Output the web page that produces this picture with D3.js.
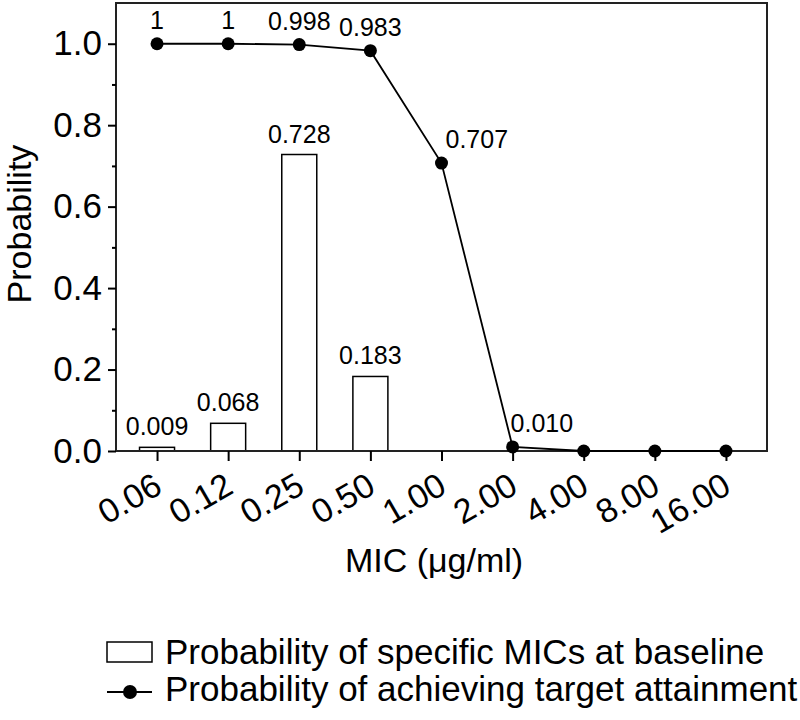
<!DOCTYPE html>
<html>
<head>
<meta charset="utf-8">
<script src="https://cdn.jsdelivr.net/npm/d3@7"></script>
<style>
  html, body { margin: 0; padding: 0; background: #fff; }
  svg { display: block; font-family: "Liberation Sans", Arial, sans-serif; }
</style>
</head>
<body>
<svg id="chart" width="800" height="720"></svg>
<script>
// ---- data ----
const categories = ["0.06", "0.12", "0.25", "0.50", "1.00", "2.00", "4.00", "8.00", "16.00"];
const barValues = [0.009, 0.068, 0.728, 0.183, 0, 0, 0, 0, 0];
const barLabels = ["0.009", "0.068", "0.728", "0.183", "", "", "", "", ""];
const lineValues = [1, 1, 0.998, 0.983, 0.707, 0.010, 0, 0, 0];
const lineLabels = ["1", "1", "0.998", "0.983", "0.707", "0.010", "", "", ""];
const yTicks = [0, 0.2, 0.4, 0.6, 0.8, 1.0];
const yMinorTicks = [0.1, 0.3, 0.5, 0.7, 0.9];
const xTitle = "MIC (μg/ml)";
const yTitle = "Probability";
const legendBar = "Probability of specific MICs at baseline";
const legendLine = "Probability of achieving target attainment";

// ---- layout ----
const svg = d3.select("#chart");
const L = 116, R = 767, T = 3, B = 451;

const x = d3.scalePoint().domain(categories).range([L, R]).padding(0.577);
const y = d3.scaleLinear().domain([0, 1.1]).range([B, T]);
const barW = 35;

// bars
svg.append("g").selectAll("rect")
  .data(categories.map((c, i) => ({c, v: barValues[i]})).filter(d => d.v > 0))
  .join("rect")
  .attr("x", d => x(d.c) - barW / 2)
  .attr("y", d => y(d.v))
  .attr("width", barW)
  .attr("height", d => y(0) - y(d.v))
  .attr("fill", "#fff")
  .attr("stroke", "#000")
  .attr("stroke-width", 1.5);

// bar labels
svg.append("g").selectAll("text")
  .data(categories.map((c, i) => ({c, v: barValues[i], t: barLabels[i]})).filter(d => d.t))
  .join("text")
  .attr("x", d => x(d.c))
  .attr("y", d => y(d.v) - 12)
  .attr("text-anchor", "middle")
  .attr("font-size", 25)
  .attr("fill", "#000")
  .text(d => d.t);

// frame
svg.append("rect")
  .attr("x", L).attr("y", T).attr("width", R - L).attr("height", B - T)
  .attr("fill", "none").attr("stroke", "#222").attr("stroke-width", 2);

// y axis
const yAxis = d3.axisLeft(y).tickValues(yTicks).tickFormat(d3.format(".1f")).tickSize(8).tickPadding(6);
const gy = svg.append("g").attr("transform", `translate(${L},0)`).call(yAxis);
gy.select(".domain").remove();
gy.selectAll(".tick line").attr("stroke", "#000").attr("stroke-width", 2);
gy.selectAll(".tick text").attr("font-size", 35).attr("fill", "#000")
  .attr("font-family", "Liberation Sans, Arial, sans-serif");
const yMinor = d3.axisLeft(y).tickValues(yMinorTicks).tickSize(4).tickFormat("");
const gym = svg.append("g").attr("transform", `translate(${L},0)`).call(yMinor);
gym.select(".domain").remove();
gym.selectAll(".tick line").attr("stroke", "#000").attr("stroke-width", 2);

// x axis
const xAxis = d3.axisBottom(x).tickSize(10).tickFormat("");
const gx = svg.append("g").attr("transform", `translate(0,${B})`).call(xAxis);
gx.select(".domain").remove();
gx.selectAll(".tick line").attr("stroke", "#000").attr("stroke-width", 2);

// x tick labels (rotated)
svg.append("g").selectAll("text")
  .data(categories)
  .join("text")
  .attr("transform", d => `translate(${x(d) + 7},492) rotate(-30)`)
  .attr("text-anchor", "end")
  .attr("font-size", 34)
  .attr("fill", "#000")
  .text(d => d);

// line
const pts = categories.map((c, i) => ({c, v: lineValues[i], t: lineLabels[i], i}));
svg.append("path")
  .datum(pts)
  .attr("d", d3.line().x(d => x(d.c)).y(d => y(d.v)))
  .attr("fill", "none")
  .attr("stroke", "#000")
  .attr("stroke-width", 1.8);
svg.append("g").selectAll("circle")
  .data(pts)
  .join("circle")
  .attr("cx", d => x(d.c))
  .attr("cy", d => y(d.v))
  .attr("r", 6.5)
  .attr("fill", "#000");

// line labels: centred above on the plateau, offset to the right on the steep drop
svg.append("g").selectAll("text")
  .data(pts.filter(d => d.t))
  .join("text")
  .attr("x", d => d.i >= 4 ? x(d.c) + (d.i === 4 ? 4 : -2) : x(d.c))
  .attr("y", d => y(d.v) - 15)
  .attr("text-anchor", d => d.i >= 4 ? "start" : "middle")
  .attr("font-size", 25)
  .attr("fill", "#000")
  .text(d => d.t);

// axis titles
svg.append("text")
  .attr("x", 434)
  .attr("y", 572)
  .attr("text-anchor", "middle")
  .attr("font-size", 34)
  .attr("fill", "#000")
  .text(xTitle);
svg.append("text")
  .attr("transform", `translate(31,224) rotate(-90)`)
  .attr("text-anchor", "middle")
  .attr("font-size", 34)
  .attr("fill", "#000")
  .text(yTitle);

// legend
const lg = svg.append("g");
lg.append("rect").attr("x", 107).attr("y", 642).attr("width", 45).attr("height", 20)
  .attr("fill", "#fff").attr("stroke", "#000").attr("stroke-width", 1.5);
lg.append("text").attr("x", 165).attr("y", 664).attr("font-size", 35).attr("fill", "#000").text(legendBar);
lg.append("line").attr("x1", 107).attr("x2", 152).attr("y1", 692).attr("y2", 692)
  .attr("stroke", "#000").attr("stroke-width", 1.8);
lg.append("circle").attr("cx", 130).attr("cy", 692).attr("r", 7).attr("fill", "#000");
lg.append("text").attr("x", 165).attr("y", 701).attr("font-size", 35).attr("fill", "#000").text(legendLine);
</script>
</body>
</html>
